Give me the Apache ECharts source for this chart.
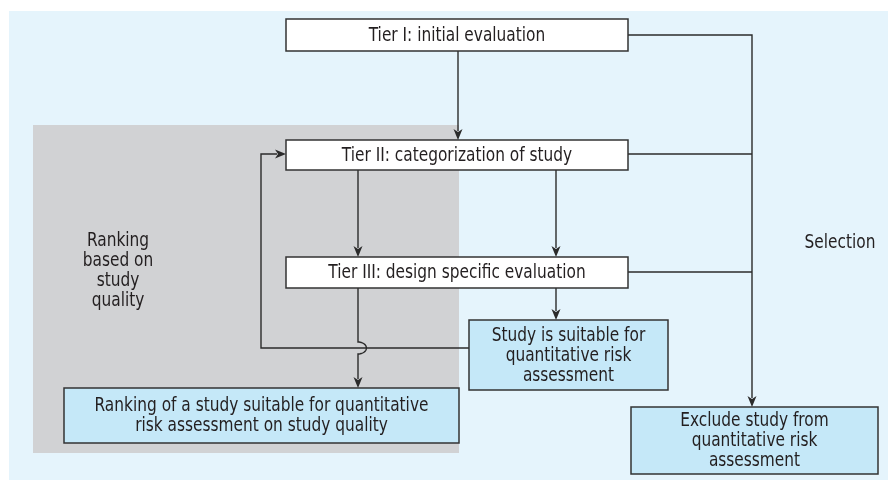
<!DOCTYPE html>
<html>
<head>
<meta charset="utf-8">
<script src="https://cdn.jsdelivr.net/npm/echarts@6/dist/echarts.min.js"></script>
<style>html,body{margin:0;padding:0;background:#fff}#c{width:888px;height:480px}</style>
</head>
<body>
<div id="c"></div>
<script>
// ---- diagram data (pixel-like units of a 888 x 480 plane) ----
const panelNames = ['background', 'rankingZone'];
const panelX0 = [9, 33];
const panelY0 = [11, 125];
const panelX1 = [888, 459];
const panelY1 = [480, 453];

const boxLabels = [
  'Tier I: initial evaluation',
  'Tier II: categorization of study',
  'Tier III: design specific evaluation',
  'Study is suitable for\nquantitative risk\nassessment',
  'Ranking of a study suitable for quantitative\nrisk assessment on study quality',
  'Exclude study from\nquantitative risk\nassessment'
];
const boxKind = ['tier', 'tier', 'tier', 'outcome', 'outcome', 'outcome'];
const boxX0 = [286, 286, 286, 469, 64, 631];
const boxY0 = [19, 140, 257, 320, 388, 407];
const boxX1 = [628, 628, 628, 668, 459, 878];
const boxY1 = [51, 170, 288, 390, 443, 474];

const freeLabels = ['Ranking\nbased on\nstudy\nquality', 'Selection'];
const freeX = [118, 840];
const freeY = [271, 243];

// connectors: list of points; arrow = arrowhead at last point; hopY = line hops over a crossing
const edgePoints = [
  [[458, 51], [458, 140]],
  [[628, 35], [752, 35], [752, 407]],
  [[628, 154], [752, 154]],
  [[628, 272], [752, 272]],
  [[358, 170], [358, 257]],
  [[556, 170], [556, 257]],
  [[556, 288], [556, 320]],
  [[358, 288], [358, 388]],
  [[469, 348], [261, 348], [261, 154], [286, 154]]
];
const edgeArrow = [true, true, false, false, true, true, true, true, true];
const edgeHopY = [null, null, null, null, null, null, null, 348, null];

// ---- rendering ----
const FONT_FAMILY = "'Liberation Sans Narrow', 'DejaVu Sans Condensed', 'Liberation Sans', sans-serif";
const TEXT_COLOR = '#231f20';
const LINE_COLOR = '#2b2b2b';
const FONT_SIZE = 19, TEXT_SCALE_X = 0.9;

const chart = echarts.init(document.getElementById('c'), null, {renderer: 'canvas'});

function rectShape(api, x0, y0, x1, y1) {
  const a = api.coord([x0, y0]);
  const b = api.coord([x1, y1]);
  return {x: Math.min(a[0], b[0]), y: Math.min(a[1], b[1]), width: Math.abs(b[0] - a[0]), height: Math.abs(b[1] - a[1])};
}

const option = {
  animation: false,
  grid: {left: 0, right: 0, top: 0, bottom: 0},
  xAxis: {type: 'value', min: 0, max: 888, show: false},
  yAxis: {type: 'value', min: 0, max: 480, inverse: true, show: false},
  series: [
    {
      type: 'custom', silent: true, z: 1,
      data: panelNames.map((n, i) => [panelX0[i], panelY0[i], panelX1[i], panelY1[i]]),
      encode: {x: [0, 2], y: [1, 3]},
      renderItem: function (params, api) {
        const i = params.dataIndex;
        return {
          type: 'rect',
          shape: rectShape(api, api.value(0), api.value(1), api.value(2), api.value(3)),
          style: {fill: panelNames[i] === 'background' ? '#e5f4fc' : '#d1d2d4'}
        };
      }
    },
    {
      type: 'custom', silent: true, z: 3,
      data: boxLabels.map((t, i) => [boxX0[i], boxY0[i], boxX1[i], boxY1[i]]),
      encode: {x: [0, 2], y: [1, 3]},
      renderItem: function (params, api) {
        const i = params.dataIndex;
        const s = rectShape(api, api.value(0), api.value(1), api.value(2), api.value(3));
        return {
          type: 'group',
          children: [
            {type: 'rect', shape: s,
             style: {fill: boxKind[i] === 'tier' ? '#ffffff' : '#c5e8f8', stroke: '#333333', lineWidth: 1.5}},
            {type: 'text', x: s.x + s.width / 2, y: s.y + s.height / 2 + 1, scaleX: TEXT_SCALE_X,
             style: {text: boxLabels[i], align: 'center', verticalAlign: 'middle',
                     fontFamily: FONT_FAMILY, fontSize: FONT_SIZE, lineHeight: 20, fill: TEXT_COLOR}}
          ]
        };
      }
    },
    {
      type: 'custom', silent: true, z: 3,
      data: freeLabels.map((t, i) => [freeX[i], freeY[i]]),
      encode: {x: 0, y: 1},
      renderItem: function (params, api) {
        const i = params.dataIndex;
        const p = api.coord([api.value(0), api.value(1)]);
        return {type: 'text', x: p[0], y: p[1], scaleX: TEXT_SCALE_X,
          style: {text: freeLabels[i], align: 'center', verticalAlign: 'middle',
                  fontFamily: FONT_FAMILY, fontSize: FONT_SIZE, lineHeight: 20, fill: TEXT_COLOR}};
      }
    },
    {
      type: 'custom', silent: true, z: 2,
      data: edgePoints.map(pts => pts[0]),
      encode: {x: 0, y: 1},
      renderItem: function (params, api) {
        const i = params.dataIndex;
        const pts = edgePoints[i].map(p => api.coord(p));
        const children = [];
        const headLen = 11, headHalf = 4.5;
        let linePts = pts.slice();
        if (edgeArrow[i]) {
          const tip = pts[pts.length - 1], prev = pts[pts.length - 2];
          const dx = tip[0] - prev[0], dy = tip[1] - prev[1];
          const L = Math.hypot(dx, dy), ux = dx / L, uy = dy / L;
          const base = [tip[0] - ux * headLen, tip[1] - uy * headLen];
          linePts[linePts.length - 1] = [tip[0] - ux * (headLen - 2), tip[1] - uy * (headLen - 2)];
          children.push({type: 'polygon', shape: {points: [tip,
            [base[0] - uy * headHalf, base[1] + ux * headHalf],
            [base[0] + ux * 3, base[1] + uy * 3],
            [base[0] + uy * headHalf, base[1] - ux * headHalf]]},
            style: {fill: LINE_COLOR}});
        }
        if (edgeHopY[i] != null) {
          const c = api.coord([edgePoints[i][0][0], edgeHopY[i]]);
          const ry = Math.abs(api.coord([0, 6])[1] - api.coord([0, 0])[1]);
          const rx = ry * 1.4;
          const first = linePts[0], last = linePts[linePts.length - 1];
          const hop = [];
          for (let k = 0; k <= 24; k++) {
            const th = -Math.PI / 2 + Math.PI * k / 24;
            hop.push([c[0] + rx * Math.cos(th), c[1] + ry * Math.sin(th)]);
          }
          linePts = [first].concat(hop, [last]);
        }
        children.push({type: 'polyline', shape: {points: linePts},
          style: {stroke: LINE_COLOR, lineWidth: 1.4, fill: null, lineJoin: 'miter'}});
        return {type: 'group', children: children};
      }
    }
  ]
};
chart.setOption(option);
</script>
</body>
</html>
